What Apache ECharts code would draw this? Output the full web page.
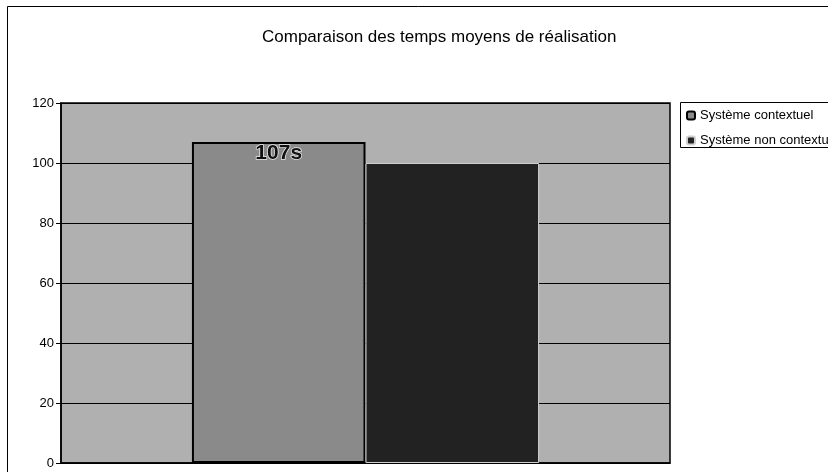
<!DOCTYPE html>
<html>
<head>
<meta charset="utf-8">
<script src="https://cdn.jsdelivr.net/npm/echarts@6/dist/echarts.min.js"></script>
<style>
  html, body { margin: 0; padding: 0; background: #fff; }
  #chart { width: 828px; height: 472px; }
</style>
</head>
<body>
<div id="chart"></div>
<script>
// Average completion times (seconds)
const categories = [''];
const seriesNames = ['Système contextuel', 'Système non contextuel'];
const contextuel = [107];
const nonContextuel = [100];
const yTicks = [0, 20, 40, 60, 80, 100, 120];

const FONT = "'Liberation Sans', Arial, sans-serif";

const chart = echarts.init(document.getElementById('chart'), null, { renderer: 'canvas' });

chart.setOption({
  backgroundColor: '#ffffff',
  animation: false,
  title: {
    text: 'Comparaison des temps moyens de réalisation',
    left: 257,
    top: 24,
    textStyle: { fontFamily: FONT, fontSize: 17, fontWeight: 'normal', color: '#000' }
  },
  legend: {
    orient: 'vertical',
    left: 686,
    top: 109,
    itemWidth: 8,
    itemHeight: 8,
    itemGap: 12,
    padding: 0,
    textStyle: { fontFamily: FONT, fontSize: 13, color: '#000' },
    data: seriesNames
  },
  grid: {
    left: 61,
    right: 158,
    top: 103,
    bottom: 9,
    show: true,
    backgroundColor: '#b0b0b0',
    borderColor: '#000',
    borderWidth: 1.5
  },
  xAxis: {
    type: 'category',
    data: categories,
    axisLine: { show: true, lineStyle: { color: '#000', width: 1.5 } },
    axisTick: { show: false },
    axisLabel: { show: false },
    splitLine: { show: false }
  },
  yAxis: {
    type: 'value',
    min: yTicks[0],
    max: yTicks[yTicks.length - 1],
    interval: 20,
    axisLine: { show: true, lineStyle: { color: '#000', width: 1.5 } },
    axisTick: { show: true, inside: false, length: 5, lineStyle: { color: '#000' } },
    axisLabel: { fontFamily: FONT, fontSize: 13, color: '#000', margin: 7 },
    splitLine: { show: true, lineStyle: { color: '#000', width: 1 } }
  },
  series: [
    {
      name: seriesNames[0],
      type: 'bar',
      data: contextuel,
      barGap: '0%',
      barCategoryGap: '43%',
      itemStyle: { color: '#8a8a8a', borderColor: '#000', borderWidth: 2 },
      label: {
        show: true,
        position: 'insideTop',
        distance: 1,
        formatter: p => p.value + 's',
        fontFamily: FONT,
        fontSize: 21,
        fontWeight: 'bold',
        color: '#111',
        textBorderColor: '#e8e8e8',
        textBorderWidth: 1.5
      }
    },
    {
      name: seriesNames[1],
      type: 'bar',
      data: nonContextuel,
      itemStyle: { color: '#222222', borderColor: '#cfcfcf', borderWidth: 1 }
    }
  ],
  graphic: [
    {
      type: 'rect',
      shape: { x: 7.5, y: 6.5, width: 830, height: 480 },
      style: { fill: 'none', stroke: '#000', lineWidth: 1 },
      silent: true
    },
    {
      type: 'rect',
      shape: { x: 680.5, y: 102.5, width: 160, height: 45 },
      style: { fill: 'none', stroke: '#000', lineWidth: 1 },
      silent: true
    }
  ]
});
</script>
</body>
</html>
